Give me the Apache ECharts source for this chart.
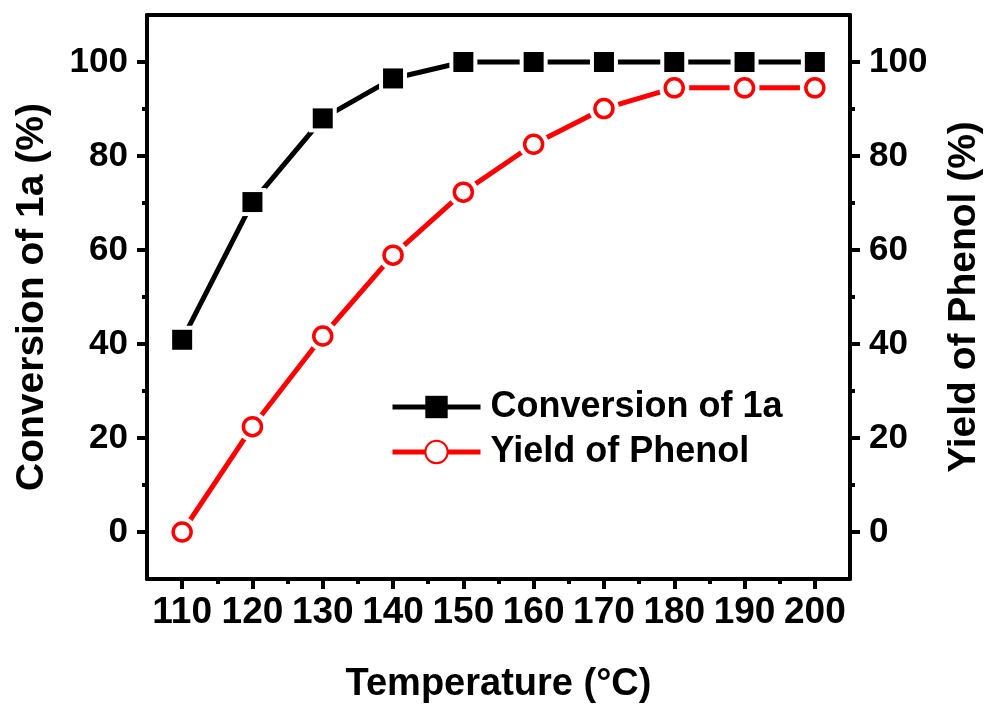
<!DOCTYPE html>
<html><head><meta charset="utf-8">
<script src="https://cdn.jsdelivr.net/npm/echarts@6/dist/echarts.min.js"></script>
<style>html,body{margin:0;padding:0;background:#fff}#c{width:989px;height:707px}</style>
</head><body><div id="c"></div>
<script>
const temperatures = [110, 120, 130, 140, 150, 160, 170, 180, 190, 200];
const conversion = [40.9, 70.2, 88.0, 96.5, 100, 100, 100, 100, 100, 100];
const yieldPhenol = [0, 22.4, 41.7, 58.9, 72.3, 82.5, 90.1, 94.5, 94.5, 94.5];
const xMajorTicks = [110, 120, 130, 140, 150, 160, 170, 180, 190, 200];
const xMinorTicks = [115, 125, 135, 145, 155, 165, 175, 185, 195];
const yMajorTicks = [0, 20, 40, 60, 80, 100];
const yMinorTicks = [10, 30, 50, 70, 90];
const seriesNames = ['Conversion of 1a', 'Yield of Phenol'];

const FONT = "'Liberation Sans', Arial, sans-serif";
const AX = { color: '#000', width: 4 };
const convData = temperatures.map((t, i) => [t, conversion[i]]);
const yieldData = temperatures.map((t, i) => [t, yieldPhenol[i]]);

const chart = echarts.init(document.getElementById('c'), null, { renderer: 'canvas' });

const xBase = { type: 'value', min: 105, max: 205, splitLine: { show: false } };
const yBase = { type: 'value', min: -10, max: 110, splitLine: { show: false } };

chart.setOption({
  animation: false,
  backgroundColor: '#fff',
  grid: { left: 147, right: 139, top: 15, bottom: 128, containLabel: false, outerBoundsMode: 'none' },
  legend: {
    data: seriesNames,
    orient: 'vertical',
    left: 390, top: 389, padding: 0,
    itemWidth: 88, itemHeight: 28, itemGap: 9,
    selectedMode: false,
    lineStyle: { width: 5 },
    textStyle: { fontFamily: FONT, fontWeight: 'bold', fontSize: 36, lineHeight: 28, color: '#000', padding: [0, 0, 0, 5] }
  },
  xAxis: [
    Object.assign({}, xBase, {
      position: 'bottom',
      name: 'Temperature (°C)', nameLocation: 'middle', nameGap: 87,
      nameTextStyle: { fontFamily: FONT, fontWeight: 'bold', fontSize: 38, color: '#000' },
      axisLine: { onZero: false, lineStyle: AX },
      axisTick: { show: true, customValues: xMajorTicks, length: 10, lineStyle: AX },
      axisLabel: { customValues: xMajorTicks, fontFamily: FONT, fontWeight: 'bold', fontSize: 37, color: '#000', margin: 15 }
    }),
    Object.assign({}, xBase, {
      position: 'bottom', offset: 0,
      axisLine: { show: false, onZero: false },
      axisTick: { show: true, customValues: xMinorTicks, length: 5, lineStyle: AX },
      axisLabel: { show: false }
    }),
    Object.assign({}, xBase, {
      position: 'top', offset: 0,
      axisLine: { onZero: false, lineStyle: AX },
      axisTick: { show: false },
      axisLabel: { show: false }
    })
  ],
  yAxis: [
    Object.assign({}, yBase, {
      position: 'left',
      name: 'Conversion of 1a (%)', nameLocation: 'middle', nameGap: 95,
      nameTextStyle: { fontFamily: FONT, fontWeight: 'bold', fontSize: 39, color: '#000' },
      axisLine: { onZero: false, lineStyle: AX },
      axisTick: { show: true, customValues: yMajorTicks, length: 10, lineStyle: AX },
      axisLabel: { customValues: yMajorTicks, fontFamily: FONT, fontWeight: 'bold', fontSize: 35, color: '#000', margin: 19 }
    }),
    Object.assign({}, yBase, {
      position: 'right',
      name: 'Yield of Phenol (%)', nameLocation: 'middle', nameGap: 95,
      nameTextStyle: { fontFamily: FONT, fontWeight: 'bold', fontSize: 39, color: '#000' },
      axisLine: { onZero: false, lineStyle: AX },
      axisTick: { show: true, customValues: yMajorTicks, length: 10, lineStyle: AX },
      axisLabel: { customValues: yMajorTicks, fontFamily: FONT, fontWeight: 'bold', fontSize: 35, color: '#000', margin: 19 }
    }),
    Object.assign({}, yBase, {
      position: 'left', offset: 0,
      axisLine: { show: false, onZero: false },
      axisTick: { show: true, customValues: yMinorTicks, length: 5, lineStyle: AX },
      axisLabel: { show: false }
    }),
    Object.assign({}, yBase, {
      position: 'right', offset: 0,
      axisLine: { show: false, onZero: false },
      axisTick: { show: true, customValues: yMinorTicks, length: 5, lineStyle: AX },
      axisLabel: { show: false }
    })
  ],
  series: [
    {
      name: seriesNames[0], type: 'line', xAxisIndex: 0, yAxisIndex: 0, z: 2,
      data: convData, symbol: 'rect', symbolSize: 20, showSymbol: true,
      lineStyle: { color: '#000', width: 5 },
      itemStyle: { color: '#000', opacity: 1 }, emphasis: { disabled: true }
    },
    {
      name: 'convGap', type: 'scatter', xAxisIndex: 0, yAxisIndex: 0, z: 3, silent: true,
      data: convData, symbol: 'rect', symbolSize: 28, itemStyle: { color: '#fff', opacity: 1 }
    },
    {
      name: 'convMark', type: 'scatter', xAxisIndex: 0, yAxisIndex: 0, z: 4, silent: true,
      data: convData, symbol: 'rect', symbolSize: 20, itemStyle: { color: '#000', opacity: 1 }
    },
    {
      name: seriesNames[1], type: 'line', xAxisIndex: 0, yAxisIndex: 1, z: 2,
      data: yieldData, symbol: 'circle', symbolSize: 18, showSymbol: true,
      lineStyle: { color: '#ff0000', width: 5 },
      itemStyle: { color: '#fff', borderColor: '#ff0000', borderWidth: 3.5, opacity: 1 }, emphasis: { disabled: true }
    },
    {
      name: 'yieldGap', type: 'scatter', xAxisIndex: 0, yAxisIndex: 1, z: 3, silent: true,
      data: yieldData, symbol: 'circle', symbolSize: 30, itemStyle: { color: '#fff', opacity: 1 }
    },
    {
      name: 'yieldMark', type: 'scatter', xAxisIndex: 0, yAxisIndex: 1, z: 4, silent: true,
      data: yieldData, symbol: 'circle', symbolSize: 18,
      itemStyle: { color: '#fff', borderColor: '#ff0000', borderWidth: 3.5, opacity: 1 }
    }
  ]
});
</script>
</body></html>
